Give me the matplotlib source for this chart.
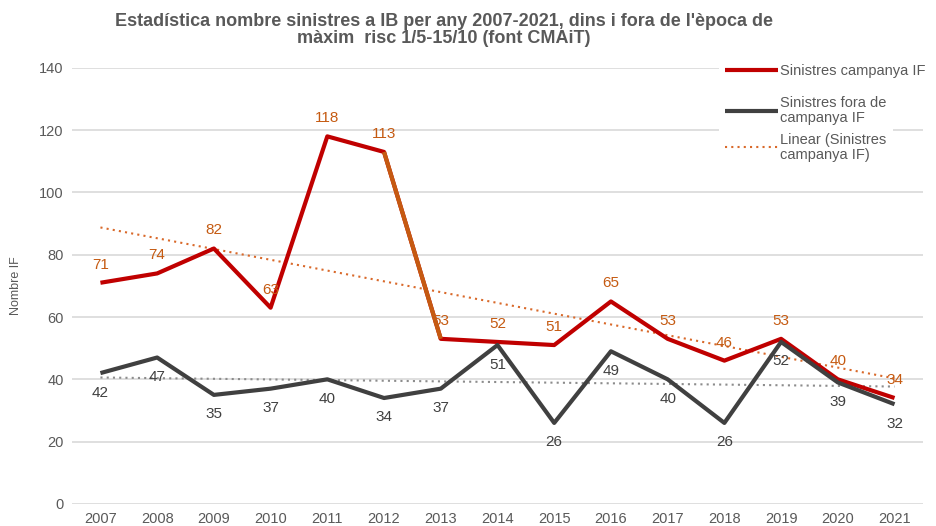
import numpy as np
import matplotlib.pyplot as plt

# Data
years = [2007, 2008, 2009, 2010, 2011, 2012, 2013, 2014, 2015, 2016, 2017, 2018, 2019, 2020, 2021]
campanya = [71, 74, 82, 63, 118, 113, 53, 52, 51, 65, 53, 46, 53, 40, 34]
fora = [42, 47, 35, 37, 40, 34, 37, 51, 26, 49, 40, 26, 52, 39, 32]

red = '#C00000'
orange = '#C55A11'
trend_orange = '#D9692A'
dark = '#404040'
text_gray = '#595959'

plt.rcParams['font.family'] = ['Liberation Sans', 'DejaVu Sans']

fig = plt.figure(figsize=(9.36, 5.26), dpi=100)
ax = fig.add_axes([0.077, 0.042, 0.909, 0.829])

x = np.arange(len(years))

# trend lines (least squares fit)
p_red = np.polyfit(x, campanya, 1)
p_gray = np.polyfit(x, fora, 1)
ax.plot(x, np.polyval(p_gray, x), ls=(0, (1, 2)), color='#8C8C8C', lw=1.5, zorder=2)
trend, = ax.plot(x, np.polyval(p_red, x), ls=(0, (1, 2)), color=trend_orange, lw=1.5, zorder=2)

# main series
l_red, = ax.plot(x, campanya, color=red, lw=3, zorder=3, solid_capstyle='butt')
ax.plot(x[5:7], campanya[5:7], color=orange, lw=3, zorder=3.5, solid_capstyle='butt')
l_dark, = ax.plot(x, fora, color=dark, lw=3, zorder=4, solid_capstyle='butt')

for xi, v in zip(x, campanya):
    ax.annotate(str(v), (xi, v), xytext=(0, 13), textcoords='offset points',
                ha='center', va='center', fontsize=11, color=orange, zorder=5)
for xi, v in zip(x, fora):
    ax.annotate(str(v), (xi, v), xytext=(0, -14), textcoords='offset points',
                ha='center', va='center', fontsize=11, color=dark, zorder=5)

ax.set_xlim(-0.5, len(years) - 0.5)
ax.set_ylim(0, 140)
ax.set_yticks(range(0, 141, 20))
ax.set_xticks(x)
ax.set_xticklabels(years)
ax.tick_params(length=0, labelsize=10.5, colors=text_gray, pad=6)
ax.grid(axis='y', color='#D9D9D9', lw=1.2, zorder=0)
ax.set_axisbelow(True)
for s in ax.spines.values():
    s.set_visible(False)
ax.set_ylabel('Nombre IF', fontsize=9, color=text_gray, labelpad=12)


def make_legend(hs, ls, y):
    lg = ax.legend(hs, ls, loc='center left', bbox_to_anchor=(0.752, y), frameon=True,
                   fontsize=10.5, handlelength=3.6, handletextpad=0.2, labelspacing=0.5,
                   borderpad=0.4)
    lg.get_frame().set_facecolor('white')
    lg.get_frame().set_edgecolor('none')
    lg.get_frame().set_alpha(1)
    lg.set_zorder(10)
    for t in lg.get_texts():
        t.set_color(text_gray)
        t.set_linespacing(1.1)
    return lg


leg1 = make_legend([l_red], ['Sinistres campanya IF'], 0.993)
ax.add_artist(leg1)
make_legend([l_dark, trend], ['Sinistres fora de\ncampanya IF', 'Linear (Sinistres\ncampanya IF)'], 0.860)

fig.text(0.474, 0.943, "Estadística nombre sinistres a IB per any 2007-2021, dins i fora de l'època de\nmàxim  risc 1/5-15/10 (font CMAiT)",
         ha='center', va='center', fontsize=13, fontweight='bold', color=text_gray,
         linespacing=1.0)

fig.savefig('out.png', dpi=100)
